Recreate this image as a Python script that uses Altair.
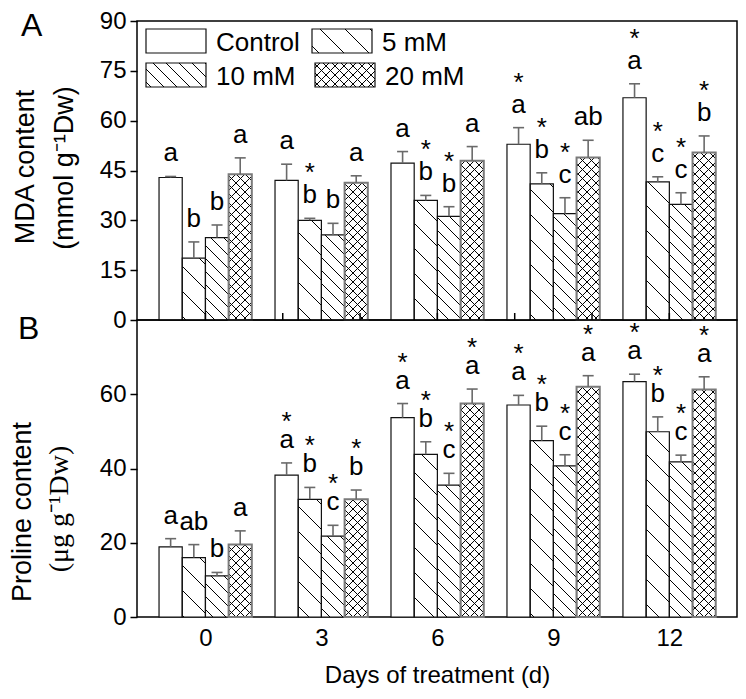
import math
import altair as alt
import pandas as pd

# ---------------- data ----------------
DAYS = [0, 3, 6, 9, 12]
TREATMENTS = ["Control", "5 mM", "10 mM", "20 mM"]

MDA_MEAN = {
    "Control": [42.9, 42.0, 47.2, 52.9, 66.9],
    "5 mM":    [18.6, 30.0, 36.0, 41.0, 41.6],
    "10 mM":   [24.8, 25.6, 31.2, 32.0, 34.8],
    "20 mM":   [43.9, 41.3, 47.9, 48.9, 50.4],
}
MDA_ERR = {
    "Control": [0.3, 4.9, 3.5, 5.0, 4.2],
    "5 mM":    [4.9, 0.6, 1.5, 3.3, 1.5],
    "10 mM":   [3.8, 3.5, 2.9, 4.8, 3.5],
    "20 mM":   [4.9, 2.1, 4.3, 5.2, 5.0],
}
MDA_LETTERS = {
    "Control": ["a", "a", "a", "a", "a"],
    "5 mM":    ["b", "b", "b", "b", "c"],
    "10 mM":   ["b", "b", "b", "c", "c"],
    "20 mM":   ["a", "a", "a", "ab", "b"],
}
MDA_STARS = {
    "Control": [0, 0, 0, 1, 1],
    "5 mM":    [0, 1, 1, 1, 1],
    "10 mM":   [0, 0, 1, 1, 1],
    "20 mM":   [0, 0, 0, 0, 1],
}
PRO_MEAN = {
    "Control": [18.9, 38.2, 53.7, 57.1, 63.4],
    "5 mM":    [16.0, 31.7, 43.8, 47.5, 49.9],
    "10 mM":   [11.1, 21.8, 35.5, 40.7, 41.8],
    "20 mM":   [19.5, 31.7, 57.5, 62.0, 61.3],
}
PRO_ERR = {
    "Control": [2.2, 3.3, 3.8, 2.6, 2.0],
    "5 mM":    [3.5, 3.2, 3.4, 3.9, 4.0],
    "10 mM":   [0.9, 2.9, 3.2, 3.0, 1.8],
    "20 mM":   [3.7, 2.5, 3.9, 3.0, 3.4],
}
PRO_LETTERS = {
    "Control": ["a", "a", "a", "a", "a"],
    "5 mM":    ["ab", "b", "b", "b", "b"],
    "10 mM":   ["b", "c", "c", "c", "c"],
    "20 mM":   ["a", "b", "a", "a", "a"],
}
PRO_STARS = {
    "Control": [0, 1, 1, 1, 1],
    "5 mM":    [0, 1, 1, 1, 1],
    "10 mM":   [0, 1, 1, 1, 1],
    "20 mM":   [0, 1, 1, 1, 1],
}
MDA_TICKS = [0, 15, 30, 45, 60, 75, 90]
PRO_TICKS = [0, 20, 40, 60]
A_INNER_TICKS = [0, 2, 4, 6, 8, 10, 12]

# ---------------- style ----------------
FONT = "Liberation Sans"
SERIF = "Liberation Serif"
W, H_A, H_B = 600, 299, 297
X_DOMAIN = [-1.77, 13.75]
MDA_DOMAIN = [0, 90]
PRO_DOMAIN = [0, 80]
BAR_W = 0.6
CAP_PX = 5.5
PXX = W / (X_DOMAIN[1] - X_DOMAIN[0])
HATCH = {"Control": [], "5 mM": [(25.0, 1)], "10 mM": [(13.0, 1)],
         "20 mM": [(9.0, 1), (9.0, -1)]}
STROKE_DARK = "#111111"
STROKE_GREY = "#7a7a7a"
ERR_COLOR = "#6a6a6a"
LETTER_SIZE = 26
TICK_FONT = 24
TITLE_FONT = 27
LEGEND_BOX = {"Control": (9, 8), "5 mM": (175, 8), "10 mM": (9, 42), "20 mM": (178, 42)}
LEGEND_BOX_W, LEGEND_BOX_H = 60, 24
LEGEND_TEXT_DX = 70
LEGEND_TEXT_BASE = 22


def hatch(x0, x1, y0, y1, spacing, sign):
    """Clip family of lines y = sign*x + k*spacing (screen px) to a rectangle."""
    m = float(sign)
    cs = [y0 - m * x0, y0 - m * x1, y1 - m * x0, y1 - m * x1]
    out = []
    for k in range(math.ceil(min(cs) / spacing), math.floor(max(cs) / spacing) + 1):
        c = k * spacing
        xa, xb = (y0 - c) / m, (y1 - c) / m
        lo, hi = max(x0, min(xa, xb)), min(x1, max(xa, xb))
        if hi - lo > 0.4:
            out.append((lo, m * lo + c, hi, m * hi + c))
    return out


def bar_table(mean, err, letters, stars):
    rows = []
    for ti, t in enumerate(TREATMENTS):
        for di, d in enumerate(DAYS):
            x0 = d + (ti - 2) * BAR_W
            rows.append(dict(treatment=t, day=d, x0=x0, x1=x0 + BAR_W,
                             xc=x0 + BAR_W / 2,
                             cl=x0 + BAR_W / 2 - CAP_PX / PXX,
                             cr=x0 + BAR_W / 2 + CAP_PX / PXX,
                             mean=mean[t][di], top=mean[t][di] + err[t][di],
                             zero=0.0, letter=letters[t][di],
                             star="*" if stars[t][di] else ""))
    return pd.DataFrame(rows)


def to_data(segs, domain, height, treatment):
    pxy = height / (domain[1] - domain[0])
    return [dict(x=X_DOMAIN[0] + a / PXX, y=domain[1] - b / pxy,
                 x2=X_DOMAIN[0] + c / PXX, y2=domain[1] - d / pxy,
                 treatment=treatment) for a, b, c, d in segs]


def hatch_table(df, domain, height):
    pxy = height / (domain[1] - domain[0])
    rows = []
    for r in df.itertuples():
        xa = (r.x0 - X_DOMAIN[0]) * PXX
        xb = (r.x1 - X_DOMAIN[0]) * PXX
        ya = (domain[1] - r.mean) * pxy
        for spacing, sign in HATCH[r.treatment]:
            rows += to_data(hatch(xa, xb, ya, height, spacing, sign), domain, height, r.treatment)
    return pd.DataFrame(rows)


def legend_tables(domain, height):
    pxy = height / (domain[1] - domain[0])
    boxes, lines = [], []
    for t in TREATMENTS:
        bx, by = LEGEND_BOX[t]
        boxes.append(dict(treatment=t,
                          x0=X_DOMAIN[0] + bx / PXX, x1=X_DOMAIN[0] + (bx + LEGEND_BOX_W) / PXX,
                          y0=domain[1] - by / pxy, y1=domain[1] - (by + LEGEND_BOX_H) / pxy,
                          tx=X_DOMAIN[0] + (bx + LEGEND_TEXT_DX) / PXX,
                          ty=domain[1] - (by + LEGEND_TEXT_BASE) / pxy))
        for spacing, sign in HATCH[t]:
            lines += to_data(hatch(bx, bx + LEGEND_BOX_W, by, by + LEGEND_BOX_H, spacing, sign),
                             domain, height, t)
    return pd.DataFrame(boxes), pd.DataFrame(lines)


def panel(mean, err, letters, stars, domain, height, ticks, star_gap, x_axis,
          with_legend, titles, tag, tag_pos, inner_ticks):
    df = bar_table(mean, err, letters, stars)
    hd = hatch_table(df, domain, height)
    xs = alt.Scale(domain=X_DOMAIN, nice=False, zero=False)
    ys = alt.Scale(domain=domain, nice=False, zero=False)
    yax = alt.Axis(values=ticks, title=None, grid=False, domain=False, tickSize=7,
                   tickWidth=1.5, tickColor="black", labelFontSize=TICK_FONT,
                   labelPadding=4, labelColor="black", labelFont=FONT)

    def X(f):
        return alt.X(f"{f}:Q", scale=xs, axis=x_axis)

    def Y(f):
        return alt.Y(f"{f}:Q", scale=ys, axis=yax)

    base = alt.Chart(df)
    layers = [
        base.mark_rect(fill="white", strokeWidth=0).encode(x=X("x0"), x2="x1", y=Y("mean"), y2="zero"),
        alt.Chart(hd).mark_rule(color="black", strokeWidth=1).encode(x=X("x"), x2="x2", y=Y("y"), y2="y2"),
        base.transform_filter(alt.datum.treatment != "20 mM").mark_rect(
            fillOpacity=0, stroke=STROKE_DARK, strokeWidth=1.2).encode(x=X("x0"), x2="x1", y=Y("mean"), y2="zero"),
        base.transform_filter(alt.datum.treatment == "20 mM").mark_rect(
            fillOpacity=0, stroke=STROKE_GREY, strokeWidth=2).encode(x=X("x0"), x2="x1", y=Y("mean"), y2="zero"),
        base.mark_rule(color=ERR_COLOR, strokeWidth=1.6).encode(x=X("xc"), y=Y("mean"), y2="top"),
        base.mark_rule(color=ERR_COLOR, strokeWidth=1.6).encode(x=X("cl"), x2="cr", y=Y("top")),
        base.mark_text(font=FONT, fontSize=LETTER_SIZE, baseline="alphabetic", dy=-15,
                       color="black").encode(x=X("xc"), y=Y("top"), text="letter:N"),
        base.mark_text(font=FONT, fontSize=LETTER_SIZE, baseline="alphabetic", dy=-15 - star_gap,
                       color="black").encode(x=X("xc"), y=Y("top"), text="star:N"),
    ]
    if inner_ticks:
        layers.append(alt.Chart(pd.DataFrame({"d": inner_ticks})).mark_rule(
            color="black", strokeWidth=1.5).encode(x=X("d"), y=alt.value(height), y2=alt.value(height - 7)))
    if with_legend:
        lb, ll = legend_tables(domain, height)
        lbase = alt.Chart(lb)
        layers += [
            lbase.mark_rect(fill="white", stroke=STROKE_DARK, strokeWidth=1.2).encode(
                x=X("x0"), x2="x1", y=Y("y0"), y2="y1"),
            alt.Chart(ll).mark_rule(color="black", strokeWidth=1).encode(x=X("x"), x2="x2", y=Y("y"), y2="y2"),
            lbase.mark_text(font=FONT, fontSize=26, align="left", baseline="alphabetic",
                            color="black").encode(x=X("tx"), y=Y("ty"), text="treatment:N"),
        ]
    for txt, font, size, xpx, ypx in titles:
        layers.append(alt.Chart(pd.DataFrame({"t": [txt]})).mark_text(
            font=font, fontSize=size, angle=270, align="center", baseline="alphabetic",
            color="black").encode(x=alt.value(xpx), y=alt.value(ypx), text="t:N"))
    layers.append(alt.Chart(pd.DataFrame({"t": [tag]})).mark_text(
        font=FONT, fontSize=32, align="left", baseline="alphabetic", color="black").encode(
        x=alt.value(tag_pos[0]), y=alt.value(tag_pos[1]), text="t:N"))
    return alt.layer(*layers).properties(width=W, height=height)


x_axis_b = alt.Axis(values=DAYS, title="Days of treatment (d)", grid=False, domain=False,
                    ticks=False, labelFontSize=TICK_FONT, labelPadding=9, labelColor="black",
                    labelFont=FONT, titleFont=FONT, titleFontSize=24, titleFontWeight="normal",
                    titleColor="black", titlePadding=13)

chart_a = panel(MDA_MEAN, MDA_ERR, MDA_LETTERS, MDA_STARS, MDA_DOMAIN, H_A, MDA_TICKS, 22, None,
                True,
                [("MDA content", FONT, TITLE_FONT, -103, 146),
                 ("(mmol g\u207b\u00b9Dw)", FONT, TITLE_FONT, -64, 147)],
                "A", (-116, 15), A_INNER_TICKS)
chart_b = panel(PRO_MEAN, PRO_ERR, PRO_LETTERS, PRO_STARS, PRO_DOMAIN, H_B, PRO_TICKS, 18, x_axis_b,
                False,
                [("Proline content", FONT, TITLE_FONT, -106, 192),
                 ("(\u03bcg g\u207b\u00b9Dw)", SERIF, 28, -69, 189)],
                "B", (-119, 19), None)

chart = alt.vconcat(chart_a, chart_b, spacing=0, bounds="flush").properties(
    padding=0, background="white"
).configure_view(stroke="black", strokeWidth=1.5)

chart.save("out.html", embed_options={"renderer": "svg", "actions": False})
